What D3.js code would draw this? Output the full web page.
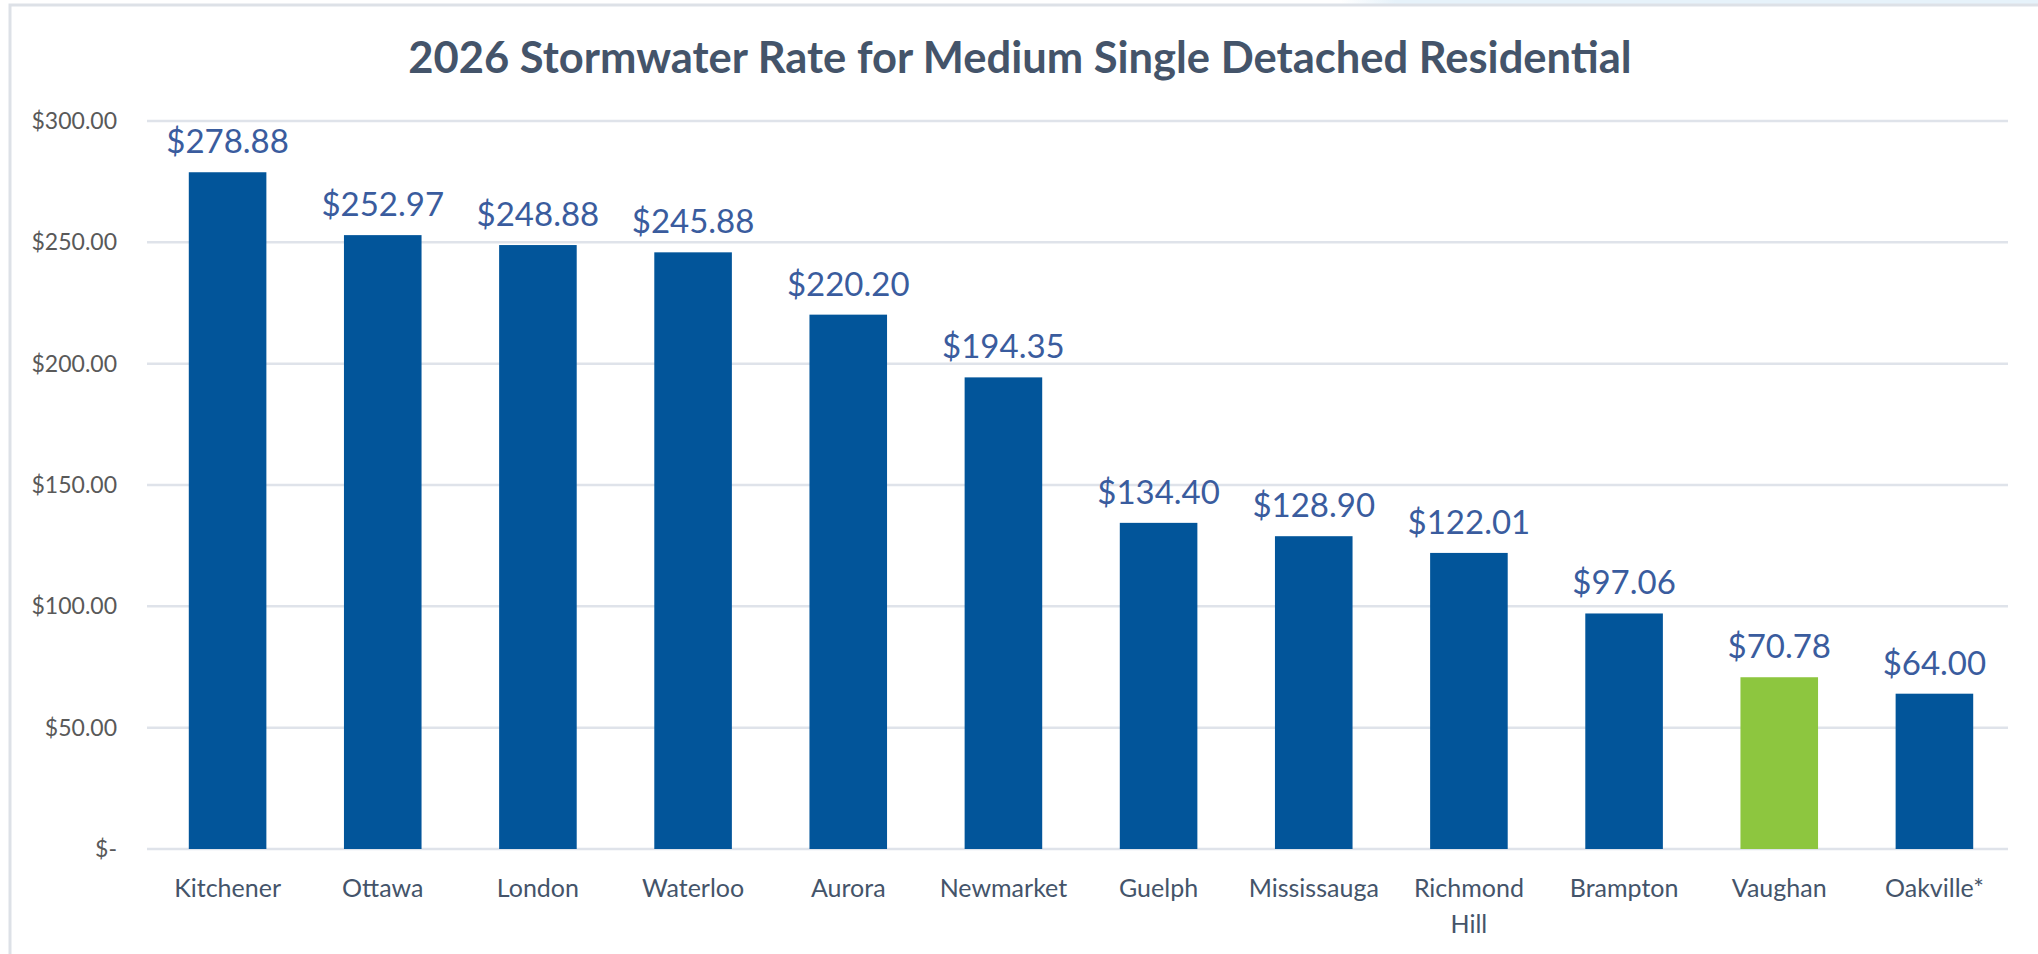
<!DOCTYPE html>
<html>
<head>
<meta charset="utf-8">
<script src="https://cdn.jsdelivr.net/npm/d3@7"></script>
<style>
  html, body { margin: 0; padding: 0; background: #fff; }
  svg { display: block; font-family: Lato, "Open Sans", sans-serif; }
</style>
</head>
<body>
<div id="chart"></div>
<script>
    // data
    var categories = ["Kitchener", "Ottawa", "London", "Waterloo", "Aurora", "Newmarket",
                      "Guelph", "Mississauga", "Richmond Hill", "Brampton", "Vaughan", "Oakville*"];
    var rates = [278.88, 252.97, 248.88, 245.88, 220.20, 194.35,
                 134.40, 128.90, 122.01, 97.06, 70.78, 64.00];
    var highlighted = ["Vaughan"];
    var yTicks = [0, 50, 100, 150, 200, 250, 300];
    var headline = "2026 Stormwater Rate for Medium Single Detached Residential";

    var width = 2038, height = 954;
    var barBlue = "#02559a", barGreen = "#8dc63f";

    var svg = d3.select("#chart").append("svg")
        .attr("width", width)
        .attr("height", height);

    // faint strip at the top right and the frame round the chart
    var grad = svg.append("defs").append("linearGradient")
        .attr("id", "strip");
    grad.append("stop").attr("offset", "0").attr("stop-color", "#e6f2fa").attr("stop-opacity", 0);
    grad.append("stop").attr("offset", "0.08").attr("stop-color", "#e6f2fa").attr("stop-opacity", 1);
    svg.append("rect")
        .attr("x", 1340).attr("y", 0)
        .attr("width", width - 1340).attr("height", 5)
        .attr("fill", "url(#strip)");
    svg.append("rect")
        .attr("x", 10).attr("y", 5)
        .attr("width", width + 20).attr("height", height + 20)
        .attr("fill", "none")
        .attr("stroke", "#dde1e7")
        .attr("stroke-width", 3);

    svg.append("text")
        .attr("x", 1020)
        .attr("y", 73)
        .attr("text-anchor", "middle")
        .attr("font-size", 43.5)
        .attr("font-weight", 700)
        .attr("fill", "#44546a")
        .text(headline);

    var x = d3.scaleBand()
        .domain(categories)
        .range([150, 2012])
        .paddingInner(0.5)
        .paddingOuter(0.25);
    var y = d3.scaleLinear().domain([0, 300]).range([849, 121]);

    // gridlines
    svg.append("g")
        .attr("class", "grid")
        .selectAll("line")
        .data(yTicks)
        .enter().append("line")
          .attr("x1", 147)
          .attr("x2", 2008)
          .attr("y1", function(d) { return y(d); })
          .attr("y2", function(d) { return y(d); })
          .attr("stroke", "#dfe3ea")
          .attr("stroke-width", 2.5);

    // y axis labels (no line, no ticks)
    var yAxis = d3.axisLeft(y)
        .tickValues(yTicks)
        .tickSize(0)
        .tickPadding(0)
        .tickFormat(function(d) { return d === 0 ? "$-" : "$" + d3.format(",.2f")(d); });
    var gy = svg.append("g")
        .attr("transform", "translate(117,0)")
        .call(yAxis);
    gy.select(".domain").remove();
    gy.selectAll("text")
        .attr("font-family", "Lato, sans-serif")
        .attr("font-size", 23)
        .attr("fill", "#595959");

    // bars
    svg.append("g")
        .attr("class", "bars")
        .selectAll("rect")
        .data(categories)
        .enter().append("rect")
          .attr("x", function(d) { return x(d); })
          .attr("width", x.bandwidth())
          .attr("y", function(d, i) { return y(rates[i]); })
          .attr("height", function(d, i) { return y(0) - y(rates[i]); })
          .attr("fill", function(d) { return highlighted.indexOf(d) >= 0 ? barGreen : barBlue; });

    // value labels
    svg.append("g")
        .attr("class", "labels")
        .selectAll("text")
        .data(categories)
        .enter().append("text")
          .attr("x", function(d) { return x(d) + x.bandwidth() / 2; })
          .attr("y", function(d, i) { return y(rates[i]) - 19; })
          .attr("text-anchor", "middle")
          .attr("font-size", 33)
          .attr("fill", "#3a5c9e")
          .text(function(d, i) { return "$" + d3.format(",.2f")(rates[i]); });

    // category labels, wrapped when they don't fit the band
    var xAxis = d3.axisBottom(x).tickSize(0).tickPadding(0);
    var gx = svg.append("g")
        .attr("transform", "translate(0,849)")
        .call(xAxis);
    gx.select(".domain").remove();
    gx.selectAll("text")
        .attr("font-family", "Lato, sans-serif")
        .attr("font-size", 25)
        .attr("fill", "#44546a")
        .attr("dy", null)
        .attr("y", 48)
        .each(function(d) {
          var t = d3.select(this);
          if (this.getComputedTextLength() < x.step() * 0.9) return;
          var words = d.split(" ");
          t.text(null);
          words.forEach(function(w, k) {
            t.append("tspan")
              .attr("x", 0)
              .attr("dy", k === 0 ? 0 : 36)
              .text(w);
          });
        });
</script>
</body>
</html>
